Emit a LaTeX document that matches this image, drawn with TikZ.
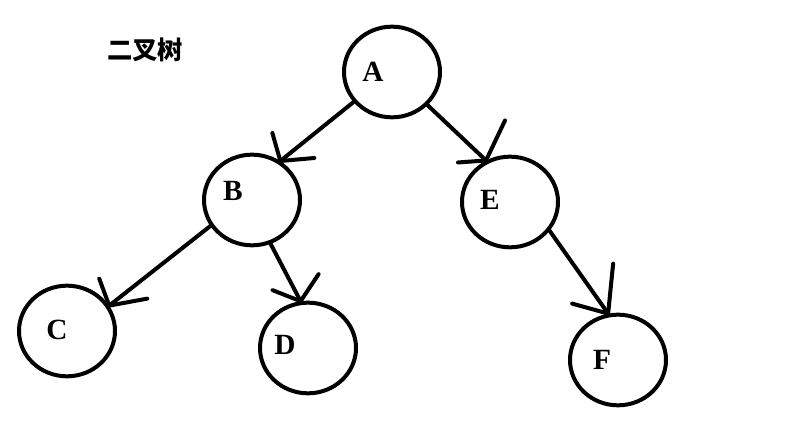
\documentclass[tikz,border=0pt]{standalone}
\usepackage{fontspec}
\setmainfont{Liberation Serif}
\newfontfamily\cjk{Noto Sans CJK SC}
\usetikzlibrary{shapes.geometric}
\begin{document}
\begin{tikzpicture}[x=0.75pt,y=-0.75pt,
  tnode/.style={draw,ellipse,line width=3pt,minimum width=72pt,minimum height=68pt,inner sep=0pt},
  lab/.style={font=\fontsize{22}{22}\selectfont\bfseries,inner sep=0pt},
  edge/.style={line width=3pt,line cap=round}]
\useasboundingbox (0,0) rectangle (804,434);
\node[font=\cjk\bfseries\fontsize{19}{19}\selectfont,inner sep=0pt] (title) at (145,50) {二叉树};
\node[tnode] (A) at (392,72) {};
\node[tnode] (B) at (252,200) {};
\node[tnode] (E) at (510,202) {};
\node[tnode] (C) at (67,331) {};
\node[tnode] (D) at (308,348) {};
\node[tnode] (F) at (618,360) {};
\node[lab] (lA) at (373,72) {A};
\node[lab] (lB) at (233,191) {B};
\node[lab] (lE) at (490,200) {E};
\node[lab] (lC) at (57,330) {C};
\node[lab] (lD) at (285,345) {D};
\node[lab] (lF) at (602,360) {F};
% A -> B
\draw[edge] (A.-142.4) -- (B.54.9);
\draw[edge] (B.54.9) -- ++(-8,-28);
\draw[edge] (B.54.9) -- ++(34,-3);
% A -> E
\draw[edge] (A.-43.3) -- (E.120.7);
\draw[edge] (E.120.7) -- ++(19,-40);
\draw[edge] (E.120.7) -- ++(-28,2);
% B -> C
\draw[edge] (B.-148) -- (C.31.2);
\draw[edge] (C.31.2) -- ++(-10,-27);
\draw[edge] (C.31.2) -- ++(38,-7);
% B -> D
\draw[edge] (B.-67.3) -- (D.99.5);
\draw[edge] (D.99.5) -- ++(18,-27);
\draw[edge] (D.99.5) -- ++(-28,-11);
% E -> F
\draw[edge] (E.-36.9) -- (F.102);
\draw[edge] (F.102) -- ++(5,-50);
\draw[edge] (F.102) -- ++(-36,-10);
\end{tikzpicture}
\end{document}
